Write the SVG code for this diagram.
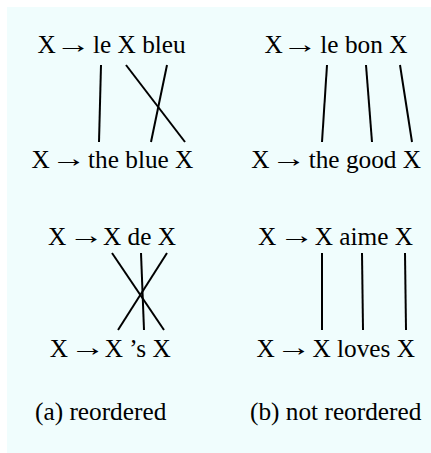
<svg xmlns="http://www.w3.org/2000/svg" width="431" height="453" viewBox="0 0 431 453">
<style>
text{font-family:"Liberation Serif","Times New Roman",serif;font-size:25.3px;fill:#000}
text.arr{text-anchor:middle}
.ln{stroke:#000;stroke-width:2;fill:none;stroke-linecap:butt}
</style>
<rect x="7" y="7" width="424" height="446" fill="#f0fdfd"/>
<g id="a-src"><text x="37.5" y="53.3">X</text><text class="arr" transform="translate(73.3,52.5) scale(1.4,1)">→</text><text x="93" y="53.3">le X bleu</text></g>
<g id="a-tgt"><text x="31.5" y="168">X</text><text class="arr" transform="translate(68.7,167.2) scale(1.4,1)">→</text><text x="88" y="168">the blue X</text></g>
<g id="b-src"><text x="264.5" y="53.3">X</text><text class="arr" transform="translate(300,52.5) scale(1.4,1)">→</text><text x="320.3" y="53.3">le bon X</text></g>
<g id="b-tgt"><text x="251.3" y="168">X</text><text class="arr" transform="translate(288.7,167.2) scale(1.4,1)">→</text><text x="308.7" y="168">the good X</text></g>
<g id="c-src"><text x="48" y="244.5">X</text><text class="arr" transform="translate(86.3,243.7) scale(1.4,1)">→</text><text x="103" y="244.5">X de X</text></g>
<g id="c-tgt"><text x="49.7" y="357">X</text><text class="arr" transform="translate(87.8,356.2) scale(1.4,1)">→</text><text x="104.7" y="357">X ’s X</text></g>
<g id="d-src"><text x="258" y="244.5">X</text><text class="arr" transform="translate(296.7,243.7) scale(1.4,1)">→</text><text x="314.7" y="244.5">X aime X</text></g>
<g id="d-tgt"><text x="256.4" y="357">X</text><text class="arr" transform="translate(293.8,356.2) scale(1.4,1)">→</text><text x="312.4" y="357">X loves X</text></g>
<g id="cap-a"><text x="35" y="420">(a) reordered</text></g>
<g id="cap-b"><text x="250" y="420">(b) not reordered</text></g>
<g id="connectors">
<line class="ln" x1="101" y1="65" x2="99" y2="142"/>
<line class="ln" x1="126" y1="65" x2="185" y2="142"/>
<line class="ln" x1="167" y1="65" x2="151" y2="142"/>
<line class="ln" x1="327" y1="65" x2="322" y2="142"/>
<line class="ln" x1="366" y1="65" x2="372" y2="142"/>
<line class="ln" x1="400" y1="65" x2="412" y2="142"/>
<line class="ln" x1="112" y1="253" x2="164" y2="330"/>
<line class="ln" x1="141" y1="253" x2="144" y2="330"/>
<line class="ln" x1="167" y1="253" x2="118" y2="330"/>
<line class="ln" x1="322" y1="253" x2="322" y2="330"/>
<line class="ln" x1="362" y1="253" x2="363" y2="330"/>
<line class="ln" x1="405" y1="253" x2="406" y2="330"/>
</g>
</svg>
